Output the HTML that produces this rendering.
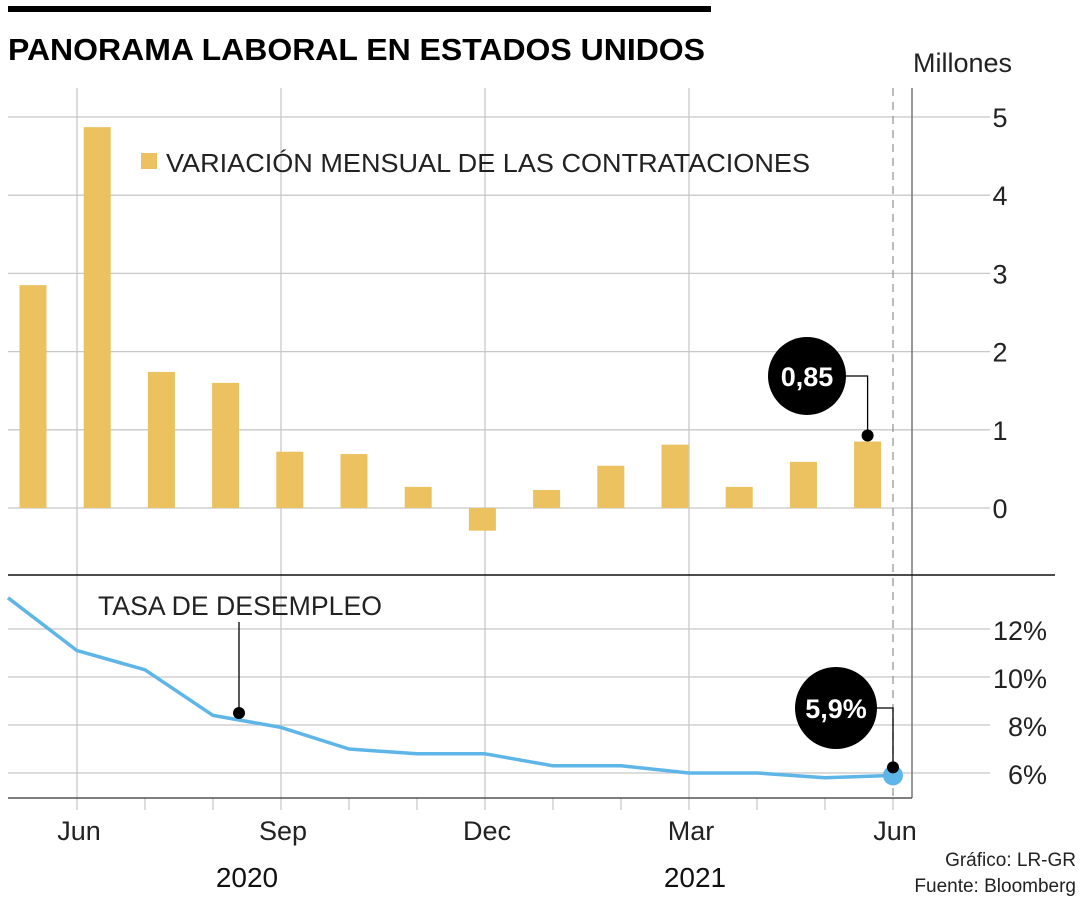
<!DOCTYPE html>
<html><head><meta charset="utf-8"><style>
body{margin:0;background:#fff;}
svg{display:block;font-family:"Liberation Sans",sans-serif;}
</style></head><body>
<svg id="c" width="1080" height="900" viewBox="0 0 1080 900"></svg>
<script>
const barValues=[2.85,4.87,1.74,1.6,0.72,0.69,0.27,-0.29,0.23,0.54,0.81,0.27,0.59,0.85];
const rateValues=[13.3,11.1,10.3,8.4,7.9,7.0,6.8,6.8,6.3,6.3,6.0,6.0,5.8,5.9];
const topTicks=[0,1,2,3,4,5];
const botTicks=[6,8,10,12];
const monthLabels=["Jun","Sep","Dec","Mar","Jun"];
const monthLabelIdx=[1,4,7,10,13];
const NS="http://www.w3.org/2000/svg";
const svg=document.getElementById('c');
function el(t,a,p){const e=document.createElementNS(NS,t);for(const k in a)e.setAttribute(k,a[k]);(p||svg).appendChild(e);return e;}
const yTop=v=>508-v*78.2;
const yBot=v=>773-(v-6)*24;
const xMonth=i=>9+i*68;
const xBar=i=>33+i*64.2;
let e=el('rect',{x:8,y:6,width:703,height:6,fill:'#000'});

e=el('text',{x:8,y:60,'font-size':31,'font-weight':'bold',fill:'#000',textLength:697,lengthAdjust:'spacingAndGlyphs'});e.textContent='PANORAMA LABORAL EN ESTADOS UNIDOS';

e=el('text',{x:1012,y:72,'font-size':27,'text-anchor':'end',fill:'#222'});e.textContent='Millones';

topTicks.forEach(t=>{const y=yTop(t);
 let g=el('line',{x1:8,x2:990,y1:y,y2:y,stroke:'#c8c8c8','stroke-width':1.3});
 
 let l=el('text',{x:1000,y:y+10,'font-size':27,'text-anchor':'middle',fill:'#222'});l.textContent=t;
 });
botTicks.forEach(t=>{const y=yBot(t);
 let g=el('line',{x1:8,x2:990,y1:y,y2:y,stroke:'#c8c8c8','stroke-width':1.3});
 
 let l=el('text',{x:1047,y:y+11,'font-size':27,'text-anchor':'end',fill:'#222'});l.textContent=t+'%';
 });
for(let i=1;i<=13;i++){const x=xMonth(i);
 let t=el('line',{x1:x,x2:x,y1:798,y2:810,stroke:'#c8c8c8','stroke-width':1.3});
 }
monthLabelIdx.forEach((i,k)=>{const x=xMonth(i);
 let g=el('line',{x1:x,x2:x,y1:88,y2:798,stroke:k==4?'#999':'#c8c8c8','stroke-width':1.3,'stroke-dasharray':k==4?'8 6':'none'});
 
 let l=el('text',{x:x+2,y:840,'font-size':27,'text-anchor':'middle',fill:'#222'});l.textContent=monthLabels[k];
 });
e=el('text',{x:247,y:887,'font-size':28,'text-anchor':'middle',fill:'#111'});e.textContent='2020';

e=el('text',{x:695,y:887,'font-size':28,'text-anchor':'middle',fill:'#111'});e.textContent='2021';

e=el('line',{x1:912,x2:912,y1:88,y2:798,stroke:'#777','stroke-width':1.5});

e=el('line',{x1:8,x2:912,y1:798,y2:798,stroke:'#555','stroke-width':1.5});

e=el('line',{x1:8,x2:1055,y1:575,y2:575,stroke:'#111','stroke-width':1.5});

barValues.forEach((v,i)=>{const y0=yTop(0),y1=yTop(v);
 let b=el('rect',{x:xBar(i)-13.5,y:Math.min(y0,y1),width:27,height:Math.abs(y1-y0),fill:'#ebc25f'});
 });
e=el('rect',{x:141,y:153,width:16,height:16,fill:'#ebc25f'});

e=el('text',{x:166,y:172,'font-size':26,fill:'#222',textLength:644,lengthAdjust:'spacingAndGlyphs'});e.textContent='VARIACIÓN MENSUAL DE LAS CONTRATACIONES';

{const n=barValues.length-1,x=xBar(n),y=yTop(barValues[n]);
 let p=el('polyline',{points:`${x},${y-6} ${x},${376} 846,376`,fill:'none',stroke:'#000','stroke-width':1.3});
 
 let c=el('circle',{cx:807,cy:376,r:39,fill:'#000'});
 let d=el('circle',{cx:x,cy:y-6,r:6,fill:'#000'});
 let t=el('text',{x:807,y:386,'font-size':27,'font-weight':'bold','text-anchor':'middle',fill:'#fff'});t.textContent=String(barValues[n]).replace('.',',');
 }
const pts=rateValues.map((v,i)=>[i==0?8:xMonth(i),yBot(v)]);
e=el('polyline',{points:pts.map(p=>p.join(',')).join(' '),fill:'none',stroke:'#5eb5e8','stroke-width':3.5,'stroke-linejoin':'round'});

const lp=pts[pts.length-1];
e=el('circle',{cx:lp[0],cy:lp[1],r:10,fill:'#5eb5e8'});
e=el('text',{x:98,y:615,'font-size':27,fill:'#222',textLength:284,lengthAdjust:'spacingAndGlyphs'});e.textContent='TASA DE DESEMPLEO';

e=el('line',{x1:239,x2:239,y1:622,y2:712,stroke:'#000','stroke-width':1.3});
e=el('circle',{cx:239,cy:713,r:6,fill:'#000'});
e=el('polyline',{points:`${lp[0]},${lp[1]-8} ${lp[0]},708 876,708`,fill:'none',stroke:'#000','stroke-width':1.3});

e=el('circle',{cx:836,cy:708,r:41,fill:'#000'});
e=el('circle',{cx:lp[0],cy:lp[1]-8,r:6,fill:'#000'});
e=el('text',{x:836,y:718,'font-size':27,'font-weight':'bold','text-anchor':'middle',fill:'#fff'});e.textContent=String(rateValues[rateValues.length-1]).replace('.',',')+'%';

e=el('text',{x:1076,y:866,'font-size':19,'text-anchor':'end',fill:'#222'});e.textContent='Gráfico: LR-GR';

e=el('text',{x:1076,y:892,'font-size':19,'text-anchor':'end',fill:'#222'});e.textContent='Fuente: Bloomberg';

</script>
</body></html>
